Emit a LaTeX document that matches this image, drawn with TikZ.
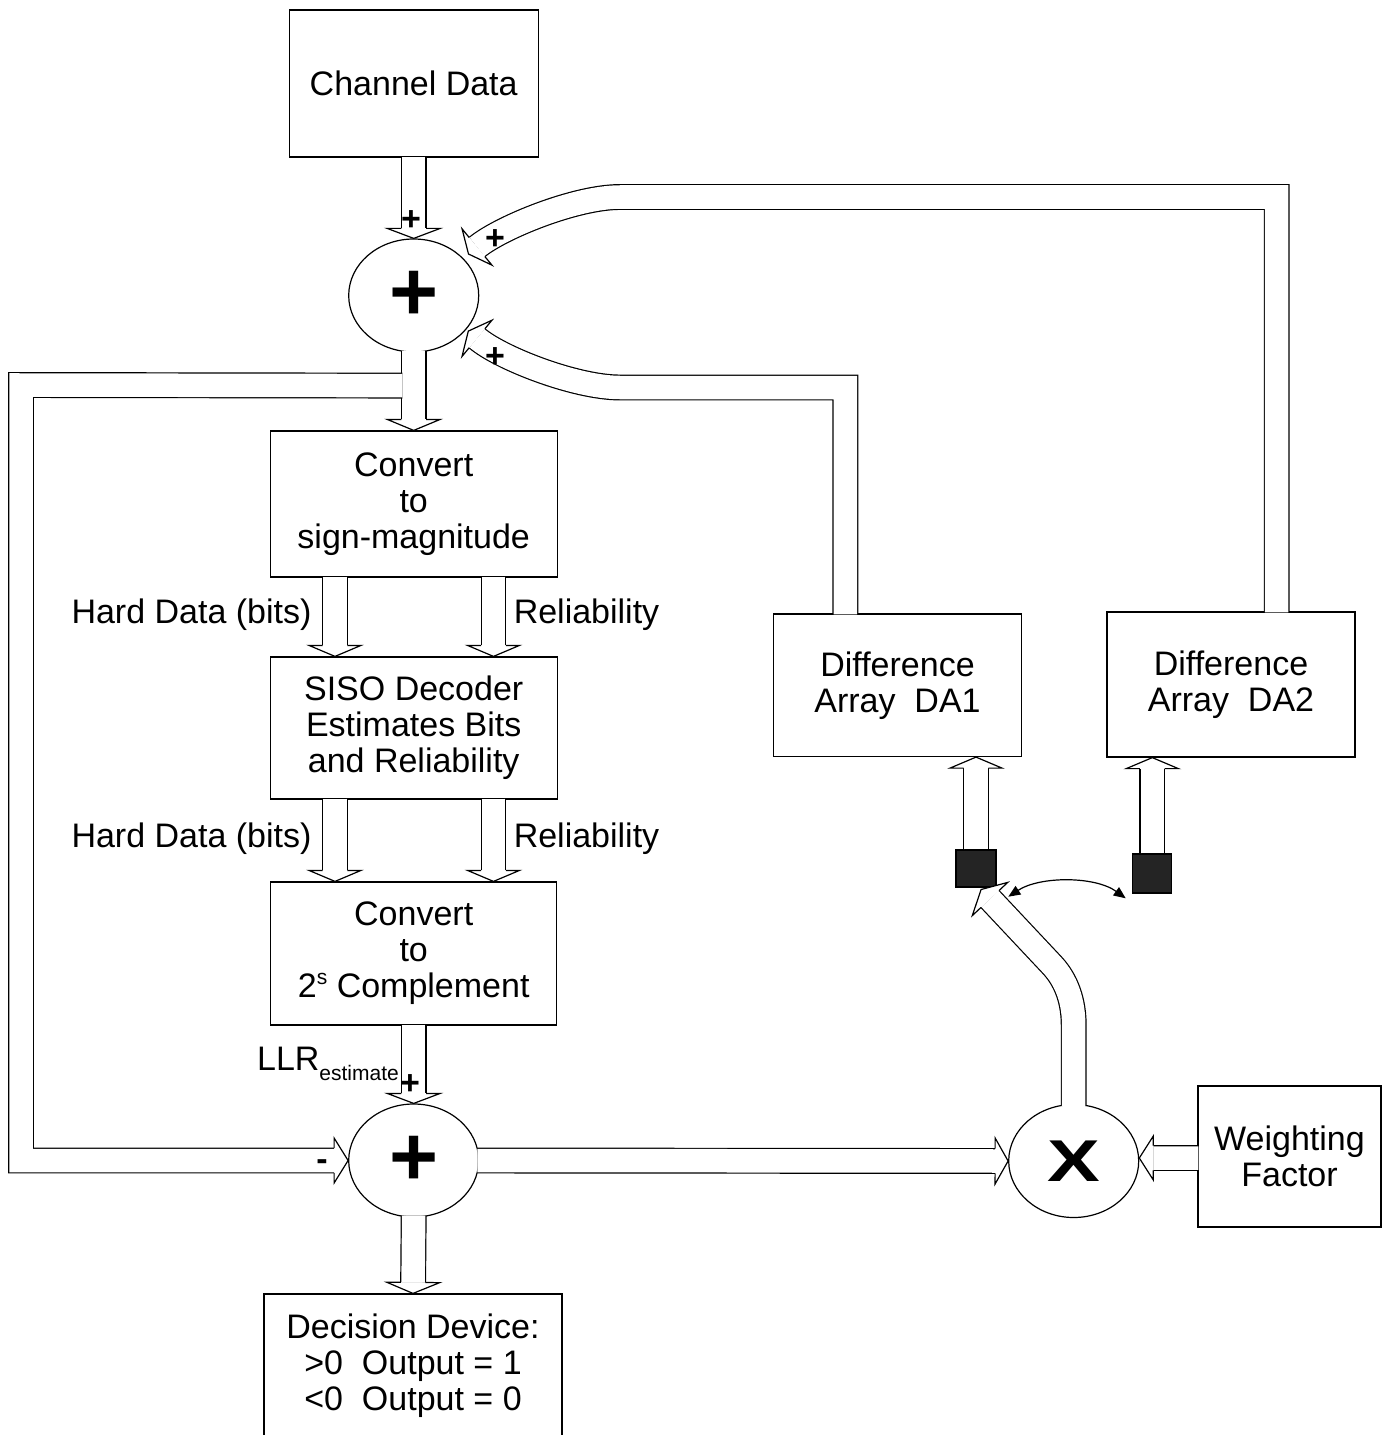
\documentclass[tikz,border=0pt]{standalone}
\usepackage{fontspec}
\usepackage{graphicx}
\setmainfont{Liberation Sans}
\usetikzlibrary{calc,shapes.geometric,arrows.meta}

% text sizes used in the block diagram
\newcommand\dgText{\fontsize{34bp}{36bp}\selectfont}
\newcommand\dgSub{\fontsize{21bp}{21bp}\selectfont}
\newcommand\dgPlus{\fontsize{84bp}{84bp}\selectfont\bfseries}
\newcommand\dgMult{\fontsize{59bp}{59bp}\selectfont\bfseries}

\tikzset{
  box/.style={draw, rectangle, inner sep=0pt, align=center, font=\dgText},
  sumnode/.style={draw, ellipse, minimum width=130bp, minimum height=113bp, inner sep=0pt},
  swbox/.style={draw, fill=black!86, rectangle, inner sep=0pt},
  shaft/.style={double=white, double distance=23.5bp, line width=1.2bp, line join=miter, line cap=butt},
  headline/.style={line width=1.2bp, line join=miter},
  lbl/.style={font=\dgText, inner sep=0pt},
  sign/.style={font=\dgText\bfseries, inner sep=0pt, anchor=base},
  thinarrow/.style={line width=1.2bp, {Triangle[length=12bp,width=10bp]}-{Triangle[length=12bp,width=10bp]}},
}

% outline of a hollow block-arrow head: #1 base centre, #2 tip, #3 half width
\newcommand{\blockhead}[3]{%
  \fill[white] ($(#1)!#3!90:(#2)$) -- (#2) -- ($(#1)!#3!-90:(#2)$) -- cycle;
  \draw[headline] ($(#1)!12.35bp!90:(#2)$) -- ($(#1)!#3!90:(#2)$) -- (#2)
     -- ($(#1)!#3!-90:(#2)$) -- ($(#1)!12.35bp!-90:(#2)$);
}
% straight hollow block arrow: #1 start, #2 tip, #3 head length, #4 half width, #5 name of head base
\newcommand{\blockarrow}[5]{%
  \coordinate (#5) at ($(#2)!#3!(#1)$);
  \draw[shaft] (#1) -- (#5);
  \blockhead{#5}{#2}{#4}%
}

\begin{document}
\begin{tikzpicture}[x=1bp, y=-1bp, line width=1.2bp]
\useasboundingbox (0,0) rectangle (1387,1435);
\clip (0,0) rectangle (1387,1435);

% ---------- blocks ----------
\node[box, minimum width=249bp, minimum height=147bp] (cd) at (413.7,83.5) {Channel Data};
\node[sumnode] (add1) at (413.7,295.5) {\dgPlus +};
\node[box, minimum width=287bp, minimum height=146bp] (c1) at (413.7,504) {Convert\\to\\sign-magnitude};
\node[box, minimum width=287bp, minimum height=142bp] (siso) at (413.7,728) {SISO Decoder\\Estimates Bits\\and Reliability};
\node[box, minimum width=286bp, minimum height=143bp] (c2) at (413.7,953.5) {Convert\\to\\2\raisebox{13bp}{\dgSub s} Complement};
\node[sumnode] (add2) at (413.7,1160.5) {\dgPlus +};
\node[box, minimum width=298bp, minimum height=144bp] (dec) at (413,1366) {Decision Device:\\>0~~Output = 1\\<0~~Output = 0};
\node[box, minimum width=248bp, minimum height=142.5bp] (da1) at (897.5,685.25) {Difference\\Array~~DA1};
\node[box, minimum width=248bp, minimum height=145bp] (da2) at (1231,684.5) {Difference\\Array~~DA2};
\node[swbox, minimum width=40bp, minimum height=37bp] (sw1) at (976,868.5) {};
\node[swbox, minimum width=39bp, minimum height=39bp] (sw2) at (1152.3,873.5) {};
\node[sumnode] (mult) at (1073.7,1161) {\scalebox{1.34}[1]{\dgMult X}};
\node[box, minimum width=183bp, minimum height=141bp] (wf) at (1289.5,1156.5) {Weighting\\Factor};

% ---------- forward path ----------
\coordinate (cdo) at ($(cd.south)+(0,-1)$);
\blockarrow{cdo}{add1.north}{10bp}{26.5bp}{cdh}

\coordinate (a1o) at ($(add1.south)+(0,-2)$);
\blockarrow{a1o}{c1.north}{11bp}{26.5bp}{a1h}

\coordinate (c1l) at ($(c1.south)+(-78.7,-1)$);
\coordinate (c1r) at ($(c1.south)+(79.8,-1)$);
\coordinate (sil) at ($(siso.north)+(-78.7,0)$);
\coordinate (sir) at ($(siso.north)+(79.8,0)$);
\blockarrow{c1l}{sil}{11bp}{26bp}{c1lh}
\blockarrow{c1r}{sir}{11bp}{26bp}{c1rh}

\coordinate (sol) at ($(siso.south)+(-78.7,-1)$);
\coordinate (sor) at ($(siso.south)+(79.8,-1)$);
\coordinate (c2l) at ($(c2.north)+(-78.7,0)$);
\coordinate (c2r) at ($(c2.north)+(79.8,0)$);
\blockarrow{sol}{c2l}{11bp}{26bp}{sollh}
\blockarrow{sor}{c2r}{11bp}{26bp}{sorrh}

\coordinate (c2o) at ($(c2.south)+(0,-1)$);
\blockarrow{c2o}{add2.north}{10bp}{26.5bp}{c2h}

\coordinate (a2o) at ($(add2.south)+(0,-2)$);
\blockarrow{a2o}{dec.north}{11bp}{26.5bp}{a2h}

% feedback of the channel sum into the lower adder
\coordinate (tap) at ($(add1.south)+(-11.3,33)$);
\coordinate (lb) at ($(add2.west)+(-14,0)$);
\draw[shaft] (tap) -- (21,385) -- (21,1160.5) -- (lb);
\blockhead{lb}{add2.west}{22.5bp}

% difference to the multiplier
\coordinate (a2e) at ($(add2.east)+(-2,0)$);
\blockarrow{a2e}{mult.west}{13bp}{23bp}{a2eh}

\coordinate (wfo) at ($(wf.west)+(1,1.5)$);
\coordinate (mte) at ($(mult.east)+(0,-3)$);
\blockarrow{wfo}{mte}{14bp}{22bp}{wfh}

% weighted difference to the selected array
\coordinate (mo) at ($(mult.north)+(0,2)$);
\coordinate (mb) at ($(sw1.center)+(14,30.5)$);
\coordinate (mt) at ($(sw1.center)+(5.1,21)$);
\draw[shaft] (mo) -- (1073.7,1025) .. controls (1073.7,995) and (1062.3,975.9) .. (1052,965) -- (mb);
\blockhead{mb}{mt}{24.3bp}

\coordinate (s1o) at (sw1.north);
\coordinate (d1i) at (da1.south -| sw1.north);
\blockarrow{s1o}{d1i}{11bp}{26bp}{s1h}
\coordinate (s2o) at (sw2.north);
\coordinate (d2i) at (da2.south -| sw2.north);
\blockarrow{s2o}{d2i}{11bp}{26bp}{s2h}

% switch between the two arrays
\coordinate (swa) at ($(sw1.center)+(32.3,28.2)$);
\coordinate (swb) at ($(sw2.center)+(-26.6,24.8)$);
\draw[thinarrow] (swa) .. controls (1040,876) and (1095,876) .. (swb);

% difference arrays back into the upper adder
\coordinate (d1o) at ($(da1.north)+(-52.2,1)$);
\coordinate (lbb) at ($(add1.center)+(63.3,42.8)$);
\coordinate (lbt) at ($(add1.center)+(54.6,35.6)$);
\draw[shaft] (d1o) -- (845.3,387.5) -- (620,387.5) .. controls (575,387.5) and (499.8,357.8) .. (lbb);
\blockhead{lbb}{lbt}{23.5bp}

\coordinate (d2o) at ($(da2.north)+(45.7,1)$);
\coordinate (ubb) at ($(add1.center)+(63.3,-48.5)$);
\coordinate (ubt) at ($(add1.center)+(54.8,-41.5)$);
\draw[shaft] (d2o) -- (1276.7,197) -- (620,197) .. controls (575,197) and (500.2,227.9) .. (ubb);
\blockhead{ubb}{ubt}{23.5bp}

% ---------- labels ----------
\node[lbl, anchor=base] (hd1) at (191.5,623) {Hard Data (bits)};
\node[lbl, anchor=base] (rl1) at (586.5,623) {Reliability};
\node[lbl, anchor=base] (hd2) at (191.5,847) {Hard Data (bits)};
\node[lbl, anchor=base] (rl2) at (586.5,847) {Reliability};
\node[lbl, anchor=base west] (llr) at (256.5,1070) {LLR\raisebox{-10bp}{\dgSub estimate}};

\node[sign] (p1) at (411,230.5) {+};
\node[sign] (p2) at (495,249) {+};
\node[sign] (p3) at (495,367.5) {+};
\node[sign] (p4) at (410,1094) {+};
\node[sign] (m1) at (322,1170) {-};
\end{tikzpicture}
\end{document}
